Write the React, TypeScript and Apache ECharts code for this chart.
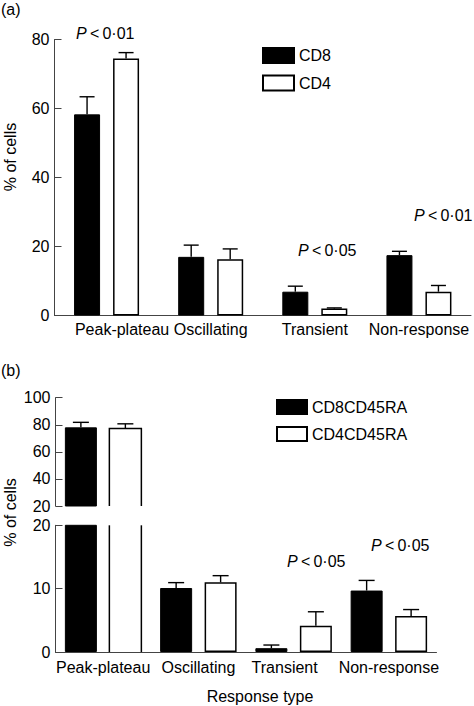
import React, { useEffect, useRef } from 'react';
import * as echarts from 'echarts';

// ---- data ----
const categories = ['Peak-plateau', 'Oscillating', 'Transient', 'Non-response'];

// panel (a)
const cd8Mean = [58.3, 17.0, 6.9, 17.5];
const cd8Err = [5.1, 3.4, 1.6, 1.1];
const cd4Mean = [74.5, 16.3, 2.0, 6.9];
const cd4Err = [1.7, 3.0, 0.2, 1.8];
const ticksA = [0, 20, 40, 60, 80];

// panel (b)
const cd8raMean = [78.1, 10.1, 0.6, 9.7];
const cd8raErr = [3.7, 0.85, 0.5, 1.6];
const cd4raMean = [77.3, 11.0, 4.15, 5.7];
const cd4raErr = [3.4, 1.05, 2.2, 1.0];
const ticksBUpper = [20, 40, 60, 80, 100];
const ticksBLower = [0, 10, 20];

const seriesNamesA = ['CD8', 'CD4'];
const seriesNamesB = ['CD8CD45RA', 'CD4CD45RA'];
const pTextsA = ['0·01', '0·05', '0·01'];
const pTextsB = ['0·05', '0·05'];

const FONT = "'Liberation Sans', Arial, Helvetica, sans-serif";
const AXIS_COLOR = '#444';

const barWA = 26;
const gapA = 0.5;
const barWB = 32;
const gapB = 0.39;
const offA = (barWA + barWA * gapA) / 2;
const offB = (barWB + barWB * gapB) / 2;

function errorRender(offset: number, cap: number) {
  return (_params: any, api: any) => {
    const c = api.value(0);
    const m = api.value(1);
    const e = api.value(2);
    const p0 = api.coord([c, m]);
    const p1 = api.coord([c, m + e]);
    const x = p0[0] + offset;
    const st = { stroke: '#000', lineWidth: 1.4 };
    return {
      type: 'group',
      children: [
        { type: 'line', shape: { x1: x, y1: p0[1], x2: x, y2: p1[1] }, style: st },
        { type: 'line', shape: { x1: x - cap / 2, y1: p1[1], x2: x + cap / 2, y2: p1[1] }, style: st },
      ],
    };
  };
}

function outlineRender(offset: number, halfW: number, lo: number, hi: number) {
  return (_params: any, api: any) => {
    const c = api.value(0);
    const v = api.value(1);
    const top = Math.min(v, hi);
    const pb = api.coord([c, lo]);
    const pt = api.coord([c, top]);
    const xl = pb[0] + offset - halfW;
    const xr = pb[0] + offset + halfW;
    const st = { stroke: '#000', lineWidth: 1.5, fill: null };
    if (v <= hi) {
      return {
        type: 'polyline',
        shape: { points: [[xl, pb[1]], [xl, pt[1]], [xr, pt[1]], [xr, pb[1]]] },
        style: st,
      };
    }
    return {
      type: 'group',
      children: [
        { type: 'line', shape: { x1: xl, y1: pb[1], x2: xl, y2: pt[1] }, style: st },
        { type: 'line', shape: { x1: xr, y1: pb[1], x2: xr, y2: pt[1] }, style: st },
      ],
    };
  };
}

function pText(x: number, y: number, num: string) {
  return {
    type: 'text',
    x,
    y,
    style: {
      text: '{i|P}\u2009<\u2009' + num,
      fontSize: 16,
      fontFamily: FONT,
      fill: '#000',
      verticalAlign: 'middle',
      align: 'left',
      rich: {
        i: { fontStyle: 'italic', fontSize: 16, fontFamily: FONT, fill: '#000' },
      },
    },
  };
}

function plainText(x: number, y: number, text: string, align = 'left', rotation = 0) {
  return {
    type: 'text',
    x,
    y,
    rotation,
    style: { text, fontSize: 16, fontFamily: FONT, fill: '#000', align, verticalAlign: 'middle' },
  };
}

const axisLineStyle = { color: AXIS_COLOR, width: 1 };

function valueAxis(gridIndex: number, ticks: number[]) {
  return {
    type: 'value',
    gridIndex,
    min: ticks[0],
    max: ticks[ticks.length - 1],
    interval: ticks[1] - ticks[0],
    axisLine: { show: true, lineStyle: axisLineStyle },
    axisTick: { show: true, inside: true, length: 7, lineStyle: axisLineStyle },
    axisLabel: { fontSize: 16, color: '#000', fontFamily: FONT, margin: 5 },
    splitLine: { show: false },
  };
}

export default function App() {
  const ref = useRef<HTMLDivElement>(null);
  useEffect(() => {
    if (!ref.current) return;
    const chart = echarts.init(ref.current, null, { renderer: 'svg' });

    const upperIdx = cd8raMean.map((_, i) => i).filter((i) => cd8raMean[i] > ticksBUpper[0]);
    const lowerIdx = cd8raMean.map((_, i) => i).filter((i) => cd8raMean[i] <= ticksBLower[ticksBLower.length - 1]);

    const option: any = {
      animation: false,
      textStyle: { fontFamily: FONT },
      grid: [
        { left: 54.5, top: 39.5, width: 416.5, height: 276 },
        { left: 55.5, top: 397.7, width: 381, height: 108.3 },
        { left: 55.5, top: 525.3, width: 381, height: 126.7 },
      ],
      xAxis: [
        {
          type: 'category',
          gridIndex: 0,
          data: categories,
          axisLine: { show: true, lineStyle: axisLineStyle },
          axisTick: { show: false },
          axisLabel: {
            interval: 0,
            hideOverlap: false,
            fontSize: 16,
            color: '#000',
            fontFamily: FONT,
            margin: 6,
            formatter: (v: string) => (v === categories[0] ? '{s|' + v + '}' : v),
            rich: { s: { padding: [0, 0, 0, 31], fontSize: 16, fontFamily: FONT, color: '#000' } },
          },
        },
        { type: 'category', gridIndex: 1, data: categories, show: false },
        {
          type: 'category',
          gridIndex: 2,
          data: categories,
          axisLine: { show: true, lineStyle: axisLineStyle },
          axisTick: { show: false },
          axisLabel: {
            interval: 0,
            hideOverlap: false,
            fontSize: 16,
            color: '#000',
            fontFamily: FONT,
            margin: 7,
            formatter: (v: string) => (v === categories[2] ? '{t|' + v + '}' : v),
            rich: { t: { padding: [0, 18, 0, 0], fontSize: 16, fontFamily: FONT, color: '#000' } },
          },
        },
      ],
      yAxis: [valueAxis(0, ticksA), valueAxis(1, ticksBUpper), valueAxis(2, ticksBLower)],
      legend: [
        {
          orient: 'vertical',
          left: 262,
          top: 47,
          padding: 0,
          itemWidth: 31,
          itemHeight: 15,
          itemGap: 10.5,
          icon: 'rect',
          selectedMode: false,
          data: seriesNamesA,
          textStyle: { fontSize: 16, color: '#000', fontFamily: FONT },
        },
        {
          orient: 'vertical',
          left: 276,
          top: 399,
          padding: 0,
          itemWidth: 30,
          itemHeight: 14,
          itemGap: 11,
          icon: 'rect',
          selectedMode: false,
          data: seriesNamesB,
          textStyle: { fontSize: 16, color: '#000', fontFamily: FONT },
        },
      ],
      series: [
        // panel (a)
        {
          type: 'bar',
          name: seriesNamesA[0],
          xAxisIndex: 0,
          yAxisIndex: 0,
          data: cd8Mean,
          barWidth: barWA,
          barGap: gapA * 100 + '%',
          itemStyle: { color: '#000', borderColor: '#000', borderWidth: 1 },
        },
        {
          type: 'bar',
          name: seriesNamesA[1],
          xAxisIndex: 0,
          yAxisIndex: 0,
          data: cd4Mean,
          barWidth: barWA,
          barGap: gapA * 100 + '%',
          itemStyle: { color: '#fff', borderColor: '#000', borderWidth: 1.5 },
        },
        {
          type: 'custom',
          xAxisIndex: 0,
          yAxisIndex: 0,
          z: 3,
          renderItem: errorRender(-offA, 15),
          encode: { x: 0, y: 1 },
          data: cd8Mean.map((m, i) => [i, m, cd8Err[i]]),
        },
        {
          type: 'custom',
          xAxisIndex: 0,
          yAxisIndex: 0,
          z: 3,
          renderItem: errorRender(offA, 15),
          encode: { x: 0, y: 1 },
          data: cd4Mean.map((m, i) => [i, m, cd4Err[i]]),
        },
        // panel (b) upper
        {
          type: 'bar',
          name: seriesNamesB[0],
          xAxisIndex: 1,
          yAxisIndex: 1,
          data: cd8raMean.map((v) => (v > ticksBUpper[0] ? v : '-')),
          barWidth: barWB,
          barGap: gapB * 100 + '%',
          itemStyle: { color: '#000', borderColor: '#000', borderWidth: 1 },
        },
        {
          type: 'bar',
          name: seriesNamesB[1],
          xAxisIndex: 1,
          yAxisIndex: 1,
          data: cd4raMean.map((v) => (v > ticksBUpper[0] ? { value: v, itemStyle: { borderWidth: 0 } } : '-')),
          barWidth: barWB,
          barGap: gapB * 100 + '%',
          itemStyle: { color: '#fff', borderColor: '#000', borderWidth: 1.5 },
        },
        {
          type: 'custom',
          xAxisIndex: 1,
          yAxisIndex: 1,
          z: 3,
          renderItem: outlineRender(offB, barWB / 2, ticksBUpper[0], ticksBUpper[ticksBUpper.length - 1]),
          encode: { x: 0, y: 1 },
          data: upperIdx.map((i) => [i, cd4raMean[i]]),
        },
        {
          type: 'custom',
          xAxisIndex: 1,
          yAxisIndex: 1,
          z: 3,
          renderItem: errorRender(-offB, 16),
          encode: { x: 0, y: 1 },
          data: upperIdx.map((i) => [i, cd8raMean[i], cd8raErr[i]]),
        },
        {
          type: 'custom',
          xAxisIndex: 1,
          yAxisIndex: 1,
          z: 3,
          renderItem: errorRender(offB, 16),
          encode: { x: 0, y: 1 },
          data: upperIdx.map((i) => [i, cd4raMean[i], cd4raErr[i]]),
        },
        // panel (b) lower
        {
          type: 'bar',
          name: seriesNamesB[0],
          xAxisIndex: 2,
          yAxisIndex: 2,
          data: cd8raMean,
          barWidth: barWB,
          barGap: gapB * 100 + '%',
          itemStyle: { color: '#000', borderColor: '#000', borderWidth: 1 },
        },
        {
          type: 'bar',
          name: seriesNamesB[1],
          xAxisIndex: 2,
          yAxisIndex: 2,
          data: cd4raMean.map((v) =>
            v > ticksBLower[ticksBLower.length - 1] ? { value: v, itemStyle: { borderWidth: 0 } } : v
          ),
          barWidth: barWB,
          barGap: gapB * 100 + '%',
          itemStyle: { color: '#fff', borderColor: '#000', borderWidth: 1.5 },
        },
        {
          type: 'custom',
          xAxisIndex: 2,
          yAxisIndex: 2,
          z: 3,
          renderItem: outlineRender(offB, barWB / 2, ticksBLower[0], ticksBLower[ticksBLower.length - 1]),
          encode: { x: 0, y: 1 },
          data: upperIdx.map((i) => [i, cd4raMean[i]]),
        },
        {
          type: 'custom',
          xAxisIndex: 2,
          yAxisIndex: 2,
          z: 3,
          renderItem: errorRender(-offB, 16),
          encode: { x: 0, y: 1 },
          data: lowerIdx.map((i) => [i, cd8raMean[i], cd8raErr[i]]),
        },
        {
          type: 'custom',
          xAxisIndex: 2,
          yAxisIndex: 2,
          z: 3,
          renderItem: errorRender(offB, 16),
          encode: { x: 0, y: 1 },
          data: lowerIdx.map((i) => [i, cd4raMean[i], cd4raErr[i]]),
        },
      ],
      graphic: [
        plainText(1, 9.5, '(a)'),
        plainText(1, 370, '(b)'),
        plainText(10, 157, '% of cells', 'center', Math.PI / 2),
        plainText(10, 512.5, '% of cells', 'center', Math.PI / 2),
        plainText(260, 696.7, 'Response type', 'center'),
        pText(76, 33, pTextsA[0]),
        pText(298, 250, pTextsA[1]),
        pText(414, 215, pTextsA[2]),
        pText(287, 561.7, pTextsB[0]),
        pText(371, 545.7, pTextsB[1]),
      ],
    };

    chart.setOption(option);
    return () => chart.dispose();
  }, []);

  return (
    <div
      ref={ref}
      style={{ position: 'absolute', left: 0, top: 0, width: 474, height: 706, background: '#fff' }}
    />
  );
}
